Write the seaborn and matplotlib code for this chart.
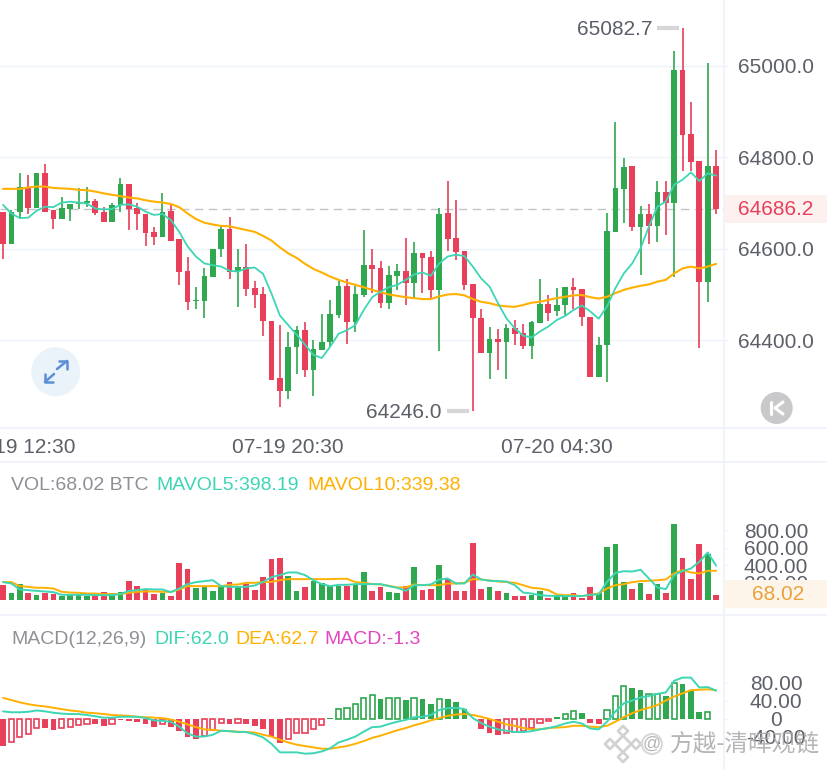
import matplotlib
matplotlib.use('Agg')
import matplotlib.pyplot as plt
from matplotlib.patches import Circle, Rectangle
import numpy as np
import pandas as pd
import seaborn as sns

# candles
opens = [64681, 64611, 64680, 64734, 64689, 64766, 64684, 64666, 64686, 64698, 64699, 64705, 64680, 64658, 64696, 64741, 64690,
         64676, 64637, 64625, 64683, 64621, 64551, 64485, 64485, 64539, 64599, 64644, 64551, 64561, 64515, 64501, 64442,
         64317, 64288, 64385, 64422, 64335, 64379, 64395, 64455, 64519, 64440, 64499, 64565, 64557, 64481, 64541, 64552,
         64525, 64590, 64581, 64510, 64678, 64623, 64594, 64522, 64448, 64371, 64403, 64396, 64427, 64415, 64388, 64437,
         64479, 64463, 64476, 64516, 64511, 64450, 64319, 64389, 64636, 64730, 64780, 64647, 64676, 64649, 64724, 64700,
         64990, 64850, 64791, 64528, 64780]
closes = [64611, 64681, 64734, 64689, 64766, 64681, 64666, 64689, 64697, 64701, 64705, 64679, 64658, 64696, 64741, 64688, 64675,
          64635, 64626, 64681, 64618, 64550, 64484, 64488, 64540, 64600, 64644, 64550, 64561, 64513, 64499, 64441, 64314,
          64288, 64386, 64422, 64335, 64380, 64397, 64457, 64519, 64440, 64501, 64565, 64555, 64481, 64542, 64552, 64525,
          64590, 64580, 64510, 64676, 64622, 64592, 64521, 64448, 64371, 64403, 64396, 64427, 64413, 64388, 64439, 64479,
          64460, 64477, 64516, 64510, 64450, 64319, 64390, 64638, 64732, 64778, 64647, 64676, 64649, 64724, 64700, 64990,
          64849, 64789, 64528, 64780, 64686.2]
highs = [64681, 64685, 64766, 64761, 64766, 64785, 64684, 64714, 64697, 64732, 64734, 64709, 64691, 64701, 64755, 64741, 64699,
         64676, 64648, 64721, 64696, 64621, 64581, 64516, 64559, 64600, 64651, 64669, 64599, 64610, 64529, 64516, 64442,
         64433, 64419, 64430, 64439, 64401, 64457, 64488, 64532, 64533, 64519, 64640, 64599, 64574, 64562, 64567, 64623,
         64615, 64590, 64594, 64689, 64748, 64707, 64594, 64522, 64468, 64428, 64424, 64436, 64444, 64436, 64441, 64533,
         64499, 64514, 64516, 64536, 64511, 64450, 64408, 64679, 64878, 64799, 64780, 64694, 64698, 64748, 64748, 65032,
         65082.7, 64920, 64791, 65006, 64816]
lows = [64578, 64611, 64666, 64677, 64689, 64681, 64644, 64666, 64660, 64688, 64692, 64673, 64658, 64658, 64681, 64642, 64640,
        64605, 64608, 64625, 64618, 64521, 64465, 64469, 64449, 64539, 64581, 64533, 64473, 64497, 64470, 64410, 64314,
        64255, 64272, 64326, 64320, 64278, 64379, 64386, 64448, 64391, 64419, 64495, 64503, 64471, 64468, 64510, 64476,
        64492, 64504, 64491, 64377, 64596, 64576, 64509, 64246.0, 64371, 64315, 64335, 64316, 64390, 64380, 64359, 64437,
        64441, 64453, 64455, 64468, 64430, 64319, 64319, 64308, 64636, 64657, 64638, 64542, 64611, 64614, 64630, 64539,
        64771, 64769, 64384, 64483, 64675]
ma_fast = [64696, 64677, 64667, 64668, 64683, 64692, 64691, 64701, 64703, 64701, 64699, 64688, 64686, 64687, 64696, 64697, 64692,
           64681, 64674, 64676, 64663, 64637, 64605, 64583, 64568, 64564, 64561, 64552, 64550, 64557, 64559, 64545, 64502,
           64454, 64433, 64412, 64390, 64368, 64361, 64386, 64414, 64422, 64433, 64466, 64494, 64506, 64516, 64521, 64532,
           64544, 64548, 64541, 64568, 64583, 64587, 64584, 64561, 64535, 64517, 64481, 64448, 64426, 64410, 64406, 64419,
           64430, 64444, 64453, 64466, 64476, 64463, 64447, 64474, 64514, 64546, 64568, 64601, 64649, 64692, 64703, 64740,
           64751, 64767, 64748, 64765, 64760]
ma_slow = [64731, 64731, 64731, 64734, 64736, 64736, 64733, 64732, 64731, 64729, 64728, 64725, 64721, 64718, 64715, 64712, 64710,
           64706, 64703, 64701, 64698, 64691, 64677, 64665, 64657, 64653, 64650, 64649, 64645, 64641, 64637, 64628, 64618,
           64603, 64590, 64580, 64567, 64556, 64548, 64539, 64532, 64526, 64521, 64516, 64510, 64505, 64500, 64497, 64494,
           64492, 64490, 64490, 64496, 64500, 64501, 64498, 64490, 64484, 64481, 64476, 64474, 64473, 64477, 64482, 64484,
           64488, 64492, 64495, 64498, 64499, 64494, 64491, 64495, 64503, 64510, 64515, 64519, 64522, 64528, 64532, 64546,
           64557, 64561, 64557, 64561, 64567]

volumes = [175, 80, 187, 80, 57, 88, 72, 50, 72, 72, 50, 57, 95, 88, 95, 217, 171, 118, 72, 88, 50, 423, 358, 145, 156, 110, 149,
           210, 156, 187, 118, 271, 469, 480, 278, 110, 149, 217, 202, 164, 171, 171, 187, 328, 103, 156, 95, 80, 171, 385, 118,
           126, 411, 240, 107, 110, 659, 126, 152, 103, 84, 50, 50, 57, 110, 34, 50, 42, 80, 34, 156, 80, 613, 640, 210, 126,
           202, 76, 187, 84, 876, 491, 244, 651, 537, 68.02]
mavol5 = [210, 194, 126, 118, 110, 103, 95, 65, 65, 65, 65, 61, 61, 61, 72, 110, 118, 130, 126, 126, 95, 137, 187, 210, 221, 232,
          164, 156, 156, 156, 171, 213, 267, 290, 320, 320, 290, 232, 187, 164, 179, 179, 187, 187, 187, 187, 164, 145, 110,
          175, 175, 183, 240, 251, 194, 194, 297, 240, 225, 221, 217, 175, 91, 80, 61, 53, 53, 50, 50, 50, 65, 69, 213, 316,
          335, 331, 351, 251, 149, 130, 290, 335, 366, 442, 549, 398.19]
mavol10 = [210, 210, 164, 156, 145, 145, 137, 99, 91, 88, 80, 80, 72, 72, 72, 88, 99, 103, 103, 99, 99, 126, 164, 164, 164, 164,
           164, 179, 183, 202, 202, 210, 213, 232, 244, 244, 244, 244, 244, 244, 248, 248, 210, 202, 187, 183, 168, 149, 149,
           183, 175, 175, 175, 194, 194, 202, 244, 240, 229, 217, 210, 202, 175, 145, 137, 118, 69, 61, 61, 50, 65, 80, 137,
           175, 187, 210, 221, 225, 232, 240, 309, 347, 320, 309, 339, 339.38]

macd_hist = [-62, -53, -40, -34, -21, -22, -25, -22, -19, -15, -11, -13, -16, -11, -4, -5, -7, -13, -19, -11, -18, -27, -41, -46,
             -38, -26, -10, -11, -9, -13, -16, -24, -42, -55, -46, -33, -31, -24, -14, 2, 21, 24, 33, 46, 52, 44, 46, 46, 41,
             45, 44, 33, 44, 44, 37, 22, -1.5, -23, -31, -36, -31, -30, -28, -22, -10, -5, 3, 11, 17, 12, -9, -12, 19, 50, 73,
             67, 64, 55, 54, 50, 78, 76, 61, 14, 14, -1.3]
macd_hollow = [1, 2, 3, 4, 7, 8, 9, 10, 13, 19, 24, 25, 26, 28, 34, 35, 36, 37, 38, 40, 41, 42, 43, 44, 46, 47, 49, 52, 60, 61,
               62, 63, 64, 65, 67, 68, 72, 73, 74, 77, 78, 80, 84]
dif = [16, 14, 14, 15, 18, 16, 13, 11, 10, 10, 8, 5, 2, 2, 4, 4, 4, 1, -4, -5, -7, -18, -33, -40, -40, -36, -27, -28, -30, -30,
       -35, -42, -56, -75, -75, -75, -78, -77, -73, -66, -53, -47, -40, -29, -19, -18, -12, -7, -3, 3, 4, 8, 19, 23, 24, 21, 1,
       -10, -18, -24, -27, -30, -30, -28, -24, -21, -17, -11, -7, -11, -22, -24, -7, 16, 34, 40, 47, 50, 55, 58, 84, 91, 91, 69,
       70, 62.0]
dea = [46, 41, 36, 32, 29, 27, 24, 21, 18, 16, 13, 12, 10, 8, 7, 6, 4, 3, 2, 1, -2, -7, -13, -19, -24, -25, -27, -28, -29, -30,
       -31, -36, -40, -47, -53, -58, -61, -64, -67, -67, -64, -61, -56, -50, -43, -38, -32, -26, -21, -15, -10, -4, 1, 6, 9, 10,
       8, 4, -1, -7, -13, -16, -21, -24, -24, -21, -20, -19, -16, -16, -18, -19, -16, -7, 3, 12, 19, 24, 30, 40, 49, 56, 63, 64,
       65, 62.7]

price_ticks = [64400, 64600, 64800, 65000]
vol_ticks = [200, 400, 600, 800]
macd_ticks = [-40, 0, 40, 80]
time_ticks = [2, 34, 66]
time_labels = ['07-19 12:30', '07-19 20:30', '07-20 04:30']

RED = '#e8405a'
GREEN = '#2fa84f'
TEAL = '#3dd6b5'
ORANGE = '#ffb000'
TEXT = '#5c5f68'
LINE = '#edf2f9'
FONT = 'Liberation Sans'

W, H = 828, 770


def panel(top, bottom):
    # axes rectangle from pixel rows, all panels stop at the divider x=724
    return [0, 1 - bottom / H, 724 / W, (bottom - top) / H]


def style_panel(ax, ticks, fmt, pad_px, ylim, ha='left'):
    ax.set_xlim(-0.36, 85.94)
    ax.set_ylim(*ylim)
    ax.set_xlabel('')
    ax.set_ylabel('')
    ax.set_xticks([])
    ax.yaxis.tick_right()
    ax.set_yticks(ticks)
    ax.set_yticklabels([fmt(t) for t in ticks], fontsize=15, color=TEXT, ha=ha, family=FONT)
    ax.tick_params(axis='y', length=3, width=1, color=LINE, pad=pad_px * 72 / 100 - 3)
    for side in ['top', 'bottom', 'left']:
        ax.spines[side].set_visible(False)
    ax.spines['right'].set_color(LINE)
    ax.spines['right'].set_linewidth(1.2)


sns.set_theme(style='white')
plt.rcParams['font.family'] = [FONT, 'DejaVu Sans']

fig = plt.figure(figsize=(W / 100, H / 100), dpi=100, facecolor='white')
ax_price = fig.add_axes(panel(0, 428))
ax_vol = fig.add_axes(panel(462, 615))
ax_macd = fig.add_axes(panel(615, 769))

idx = np.arange(len(closes))
up = np.array(closes) >= np.array(opens)
candle_colors = [GREEN if u else RED for u in up]

# price panel
for t in price_ticks:
    ax_price.axhline(t, color=LINE, lw=1, zorder=0)
ax_price.axhline(closes[-1], color='#c4c4c8', lw=1, ls=(0, (6, 4)), zorder=1)
ax_price.vlines(idx, lows, highs, colors=candle_colors, lw=1.2, zorder=2)
ax_price.bar(idx, np.abs(np.array(closes) - np.array(opens)), bottom=np.minimum(opens, closes),
             width=0.68, color=candle_colors, linewidth=0, zorder=3)
sns.lineplot(x=idx, y=ma_slow, ax=ax_price, color=ORANGE, linewidth=1.5, zorder=4)
sns.lineplot(x=idx, y=ma_fast, ax=ax_price, color=TEAL, linewidth=1.3, zorder=5)
style_panel(ax_price, price_ticks, lambda t: f'{t:.1f}', 14, (64208, 65144))
ax_price.set_xticks(time_ticks)
ax_price.set_xticklabels(time_labels, fontsize=15, color=TEXT, family=FONT)
ax_price.tick_params(axis='x', length=0, pad=7)
ax_price.spines['bottom'].set_visible(True)
ax_price.spines['bottom'].set_color(LINE)
ax_price.spines['bottom'].set_linewidth(1.2)

# volume panel
vol_df = pd.DataFrame({'i': idx, 'vol': volumes, 'side': np.where(up, 'up', 'down')})
sns.barplot(data=vol_df, x='i', y='vol', hue='side', hue_order=['up', 'down'], palette={'up': GREEN, 'down': RED},
            native_scale=True, dodge=False, width=0.68, saturation=1, legend=False, errorbar=None, linewidth=0, ax=ax_vol)
sns.lineplot(x=idx, y=mavol10, ax=ax_vol, color=ORANGE, linewidth=1.4)
sns.lineplot(x=idx, y=mavol5, ax=ax_vol, color=TEAL, linewidth=1.4)
style_panel(ax_vol, vol_ticks, lambda t: f'{t:.2f}', 20, (-166, 1583))

# macd panel
macd_df = pd.DataFrame({'i': idx, 'val': macd_hist, 'side': np.where(np.array(macd_hist) >= 0, 'up', 'down'),
                        'hollow': np.isin(idx, macd_hollow)})
pal = {'up': GREEN, 'down': RED}
sns.barplot(data=macd_df[~macd_df.hollow], x='i', y='val', hue='side', hue_order=['up', 'down'], palette=pal,
            native_scale=True, dodge=False, width=0.68, saturation=1, legend=False, errorbar=None, linewidth=0, ax=ax_macd)
sns.barplot(data=macd_df[macd_df.hollow], x='i', y='val', hue='side', hue_order=['up', 'down'], palette=pal,
            native_scale=True, dodge=False, width=0.62, saturation=1, legend=False, errorbar=None, fill=False,
            linewidth=1.2, ax=ax_macd)
sns.lineplot(x=idx, y=dea, ax=ax_macd, color=ORANGE, linewidth=1.4)
sns.lineplot(x=idx, y=dif, ax=ax_macd, color=TEAL, linewidth=1.4)
style_panel(ax_macd, macd_ticks, lambda t: f'{t:.2f}' if t else '0', 52, (-112, 230), ha='center')

# overlay in pixel rows for badges, buttons, header texts
over = fig.add_axes([0, 0, 1, 1], facecolor='none', zorder=10)
over.set_xlim(0, W)
over.set_ylim(H, 0)
over.axis('off')

over.plot([724, 828], [428, 428], color=LINE, lw=1.2)
over.plot([0, 828], [462.3, 462.3], color=LINE, lw=1.2)
over.plot([0, 828], [615.3, 615.3], color=LINE, lw=1.2)
over.plot([724, 724], [428, 462], color=LINE, lw=1.2)

# last price and last volume badges
over.add_patch(Rectangle((725, 195), 103, 28, color='#fdf1f0', lw=0))
over.text(738, 209.5, f'{closes[-1]:.1f}', color=RED, fontsize=15, va='center', family=FONT)
over.add_patch(Rectangle((725, 580), 103, 28, color='#fdf4ea', lw=0))
over.text(778, 595, f'{volumes[-1]:.2f}', color='#e8a33d', fontsize=15, va='center', ha='center', family=FONT)

# high / low markers
over.text(577, 29.5, f'{max(highs):.1f}', color=TEXT, fontsize=15, va='center', family=FONT)
over.plot([657, 679], [28, 28], color='#d6d6d9', lw=3, solid_capstyle='butt')
over.text(366, 412, f'{min(lows):.1f}', color=TEXT, fontsize=15, va='center', family=FONT)
over.plot([447, 469], [410.7, 410.7], color='#d6d6d9', lw=3, solid_capstyle='butt')

# expand button
over.add_patch(Circle((55.7, 371.7), 24.5, color='#eaf2fa', lw=0))
for xs, ys in [([57, 67], [369, 361]), ([59, 67, 67], [361, 361, 369]),
               ([54, 45], [374, 382]), ([45, 45, 53], [374, 382, 382])]:
    over.plot(xs, ys, color='#5b8fd6', lw=1.8)

# back to latest button
over.add_patch(Circle((776.7, 408), 16, color='#c9c9cb', lw=0))
over.plot([771, 771], [402, 414], color='white', lw=2.2)
over.plot([783, 775, 783], [402, 408, 414], color='white', lw=2.2)

# panel headers
for x, s, c in [(11, 'VOL:68.02 BTC', '#8e9096'), (156, 'MAVOL5:398.19', TEAL), (307, 'MAVOL10:339.38', ORANGE)]:
    over.text(x, 485.5, s, color=c, fontsize=14, va='center', family=FONT)
for x, s, c in [(11, 'MACD(12,26,9)', '#8e9096'), (154, 'DIF:62.0', TEAL), (235, 'DEA:62.7', ORANGE),
                (324, 'MACD:-1.3', '#e545c0')]:
    over.text(x, 639, s, color=c, fontsize=14, va='center', family=FONT)

# watermark
over.scatter([623], [744], marker='D', s=70, facecolor='none', edgecolor='#d2d2d4', lw=2)
over.scatter([623, 623, 610, 636], [731, 757, 744, 744], marker='D', s=26, facecolor='none', edgecolor='#d2d2d4', lw=2)
over.add_patch(Circle((652, 744), 10, facecolor='none', edgecolor='#d8d8da', lw=1.5))
over.text(652, 744, '@', color='#b4b4b6', fontsize=13, ha='center', va='center', family=FONT)
over.text(670, 744, '方越-清晖观链', color='#a8a8aa', alpha=0.85, fontsize=17, va='center',
          family=['Noto Sans CJK SC', 'DejaVu Sans'])

fig.savefig('out.png', dpi=100)
plt.close(fig)
